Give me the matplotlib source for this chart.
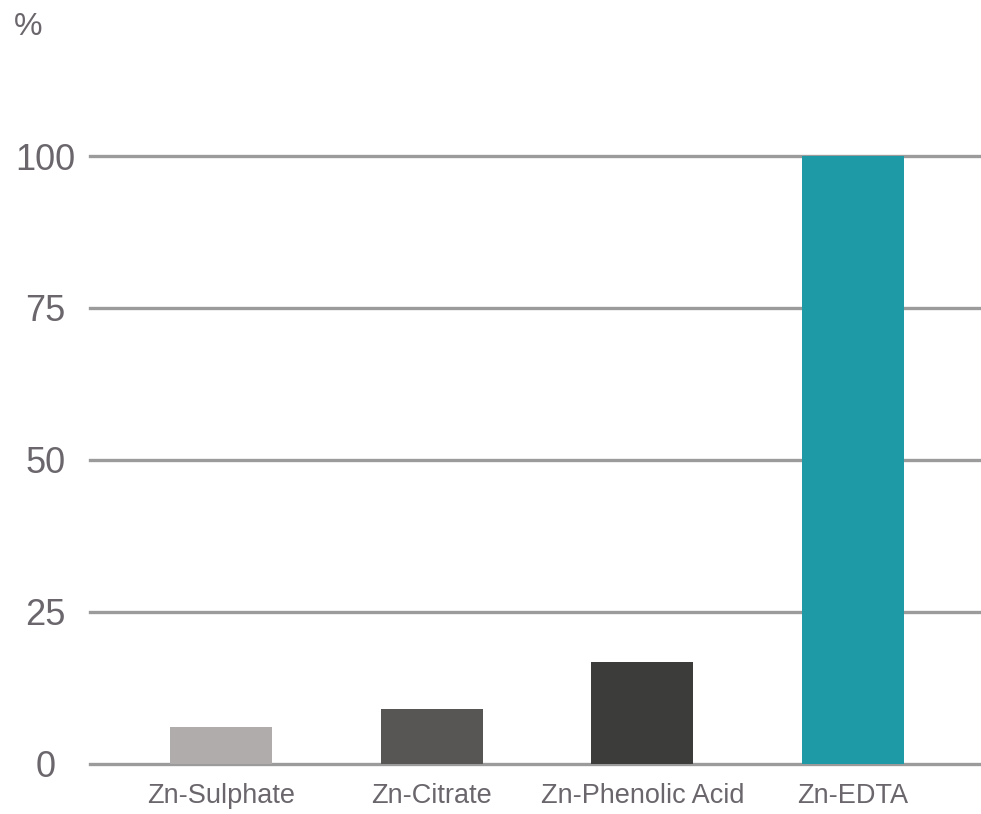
import matplotlib
matplotlib.use("Agg")
import matplotlib.pyplot as plt
from matplotlib import font_manager

categories = ["Zn-Sulphate", "Zn-Citrate", "Zn-Phenolic Acid", "Zn-EDTA"]
values = [6, 9, 16.7, 100]
colors = ["#b0acab", "#575655", "#3c3c3b", "#1e9aa6"]
yticks = [0, 25, 50, 75, 100]

names = {f.name for f in font_manager.fontManager.ttflist}
family = "Liberation Sans Narrow" if "Liberation Sans Narrow" in names else "Liberation Sans"
plt.rcParams["font.family"] = [family, "DejaVu Sans"]

W, H = 981, 814
fig = plt.figure(figsize=(W / 100, H / 100), dpi=100)

# axes placement in pixels
left_px, right_px = 90, 981
zero_px, per_unit = 763.5, 6.075
ymax = 105
top_px = zero_px - ymax * per_unit
ax = fig.add_axes([left_px / W, 1 - zero_px / H, (right_px - left_px) / W, (zero_px - top_px) / H])

x = range(len(categories))
ax.bar(x, values, width=0.485, color=colors, zorder=3)

grid_color = "#9b9b9b"
for t in yticks:
    ax.axhline(t, color=grid_color, lw=2.4, zorder=2, clip_on=False)

spacing = 210.7
ax.set_xlim((left_px - 221) / spacing, (right_px - 221) / spacing)
ax.set_ylim(0, ymax)

text_color = "#6a666c"
ax.set_yticks(yticks)
ax.set_yticklabels([str(t) for t in yticks], fontsize=26, color=text_color, ha="center")
ax.tick_params(axis="y", length=0, pad=32)
ax.set_xticks(list(x))
ax.set_xticklabels(categories, fontsize=19.5, color=text_color)
ax.tick_params(axis="x", length=0, pad=14)

for s in ax.spines.values():
    s.set_visible(False)

fig.text(14 / W, 1 - 27 / H, "%", fontsize=23, color=text_color, va="center", ha="left")

fig.savefig("out.png", dpi=100)
